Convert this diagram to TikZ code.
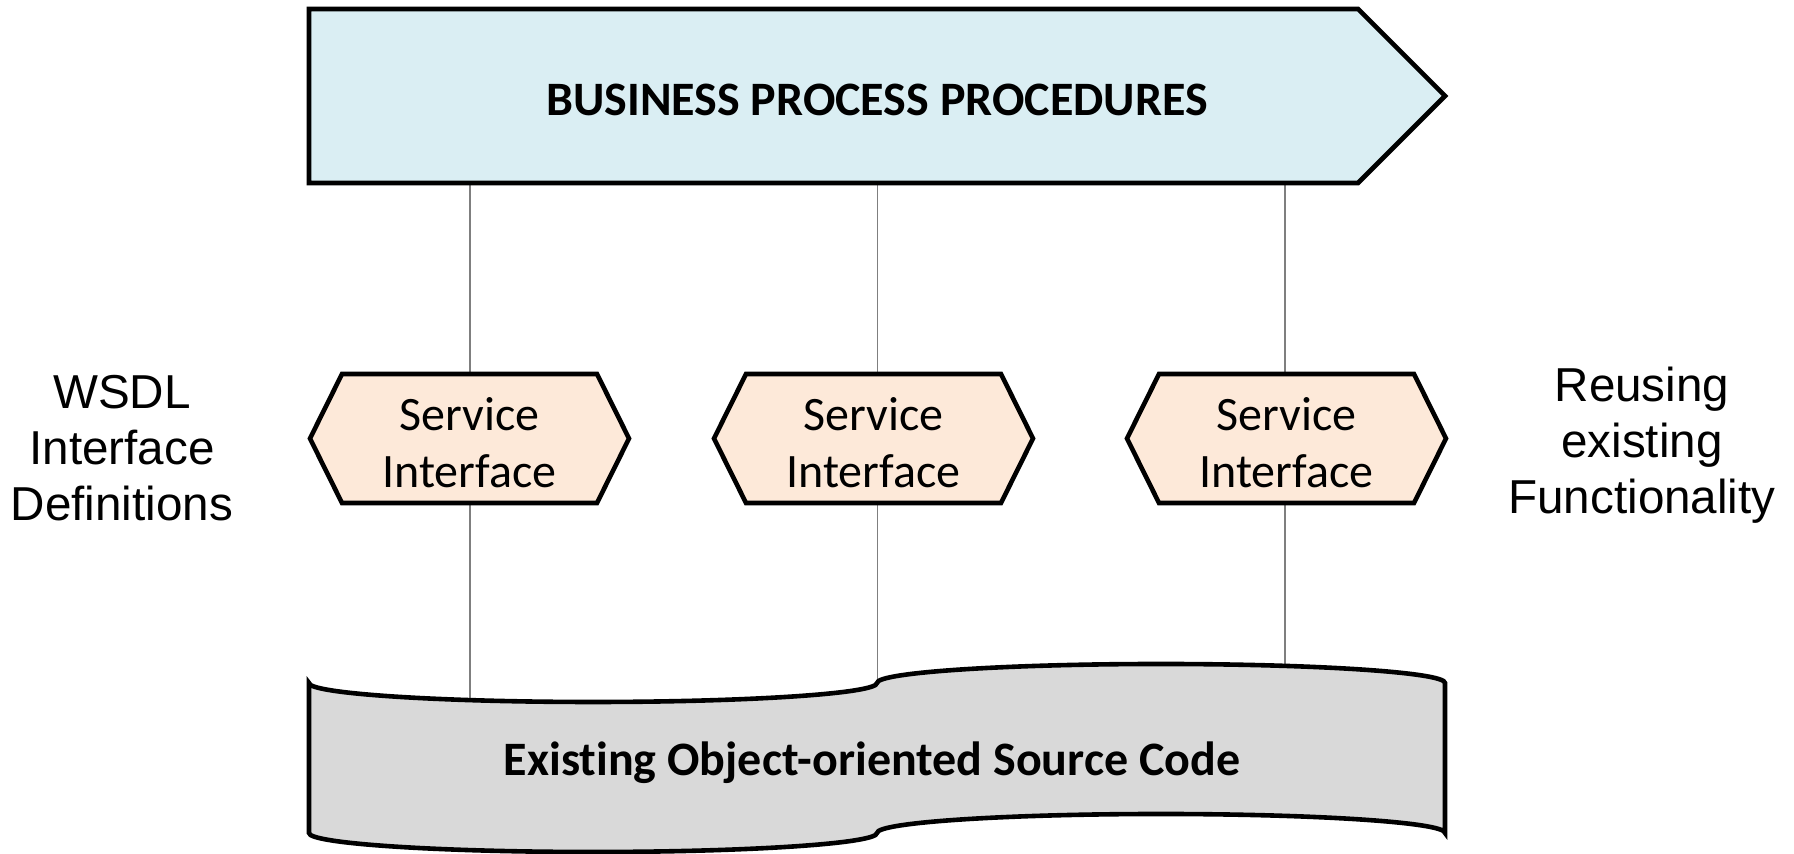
\documentclass[tikz,border=0pt]{standalone}
\usepackage{fontspec}
\setmainfont{Carlito}[Ligatures=NoCommon]
\newfontfamily\arialfont{Liberation Sans}
\usetikzlibrary{calc,backgrounds}

\definecolor{procblue}{HTML}{DAEEF3}
\definecolor{ifacepeach}{HTML}{FDE9D9}
\definecolor{codegray}{HTML}{D9D9D9}
\definecolor{linkgray}{HTML}{7F7F7F}

\begin{document}
\begin{tikzpicture}[x=0.5pt,y=0.5pt,
  outline/.style={draw=black, line width=2.3pt, line join=miter},
  boxcore/.style={inner sep=0pt, outer sep=0pt},
  hexcore/.style={boxcore, minimum width=127.5pt, minimum height=64.5pt},
  hextext/.style={inner sep=0pt, align=center,
    font=\fontsize{24pt}{28.5pt}\selectfont},
  titletext/.style={inner sep=0pt, font=\fontsize{24pt}{28.5pt}\selectfont\bfseries},
  sidetext/.style={inner sep=0pt, align=center,
    font=\arialfont\fontsize{23.8pt}{28pt}\selectfont},
  link/.style={draw=linkgray, line width=0.75pt}]

\useasboundingbox (0,0) rectangle (1794,854);

% process arrow across the top
\node[boxcore, minimum width=524.5pt, minimum height=87pt] (bpp) at (833.5,758) {};
\draw[outline, fill=procblue] (bpp.north west) -- (bpp.north east)
  -- ($(bpp.east)+(87,0)$) -- (bpp.south east) -- (bpp.south west) -- cycle;
\node[titletext] (bpptitle) at (877,754) {BUSINESS PROCESS PROCEDURES};

% service interface hexagons
\foreach \name/\cx in {s1/469.5, s2/873.5, s3/1286.5} {
  \node[hexcore] (\name) at (\cx,415.5) {};
  \draw[outline, fill=ifacepeach] (\name.north west) -- (\name.north east)
    -- ($(\name.east)+(32,0)$) -- (\name.south east) -- (\name.south west)
    -- ($(\name.west)+(-32,0)$) -- cycle;
  \node[hextext] at ($(\name)+(0,-4.5)$) {Service\\Interface};
}

% punched-tape shape holding the source code
\draw[outline, fill=codegray] (309,171)
  arc[start angle=180, end angle=360, x radius=284, y radius=19]
  arc[start angle=180, end angle=0, x radius=284, y radius=19]
  -- (1445,21)
  arc[start angle=0, end angle=180, x radius=284, y radius=19]
  arc[start angle=360, end angle=180, x radius=284, y radius=19]
  -- cycle;
\node[titletext] (code) at (872,91) {Existing Object-oriented Source Code};

% link feet on the hexagons and landing points on the wavy top edge
\coordinate (t1) at ($(s1.north)+(0.5,0)$);
\coordinate (t2) at ($(s2.north)+(4,0)$);
\coordinate (t3) at ($(s3.north)+(-1.5,0)$);
\coordinate (b1) at ($(s1.south)+(0.5,0)$);
\coordinate (b2) at ($(s2.south)+(4,0)$);
\coordinate (b3) at ($(s3.south)+(-1.5,0)$);
\coordinate (w1) at (470,154);
\coordinate (w2) at (877.5,174);
\coordinate (w3) at (1285,188);

% thin links between the layers
\begin{scope}[on background layer]
  \foreach \i in {1,2,3} {
    \draw[link] (t\i) -- (t\i |- bpp.south);
    \draw[link] (b\i) -- (b\i |- w\i);
  }
\end{scope}

% side captions
\node[sidetext] (wsdl) at (122,406) {WSDL\\Interface\\Definitions};
\node[sidetext] (reuse) at (1642,408.5) {Reusing\\existing\\Functionality};

\end{tikzpicture}
\end{document}
